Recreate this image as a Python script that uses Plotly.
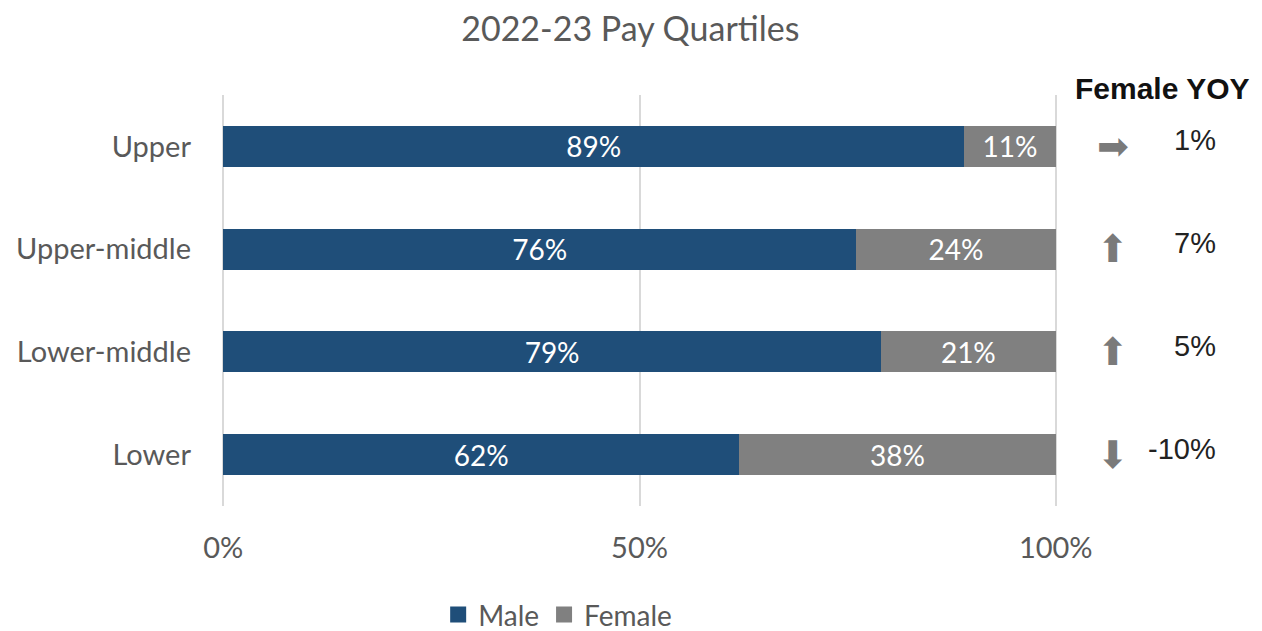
import plotly.graph_objects as go

categories = ["Lower", "Lower-middle", "Upper-middle", "Upper"]
male = [62, 79, 76, 89]
female = [38, 21, 24, 11]
female_yoy = [-10, 5, 7, 1]
yoy_arrow = ["⬇", "⬆", "⬆", "➡"]
x_ticks = [0, 50, 100]
x_tick_labels = ["0%", "50%", "100%"]

FONT = "Lato"
GREY_TXT = "#595959"
MALE_C = "#1F4E79"
FEMALE_C = "#808080"
fig = go.Figure()
fig.add_trace(go.Bar(
    y=categories, x=male, name="Male", orientation="h", showlegend=False,
    marker=dict(color=MALE_C, line=dict(width=0)),
    text=[f"{v}%" for v in male], textposition="inside", insidetextanchor="middle",
    textfont=dict(color="white", size=28, family=FONT), width=0.4,
))
fig.add_trace(go.Bar(
    y=categories, x=female, name="Female", orientation="h", showlegend=False,
    marker=dict(color=FEMALE_C, line=dict(width=0)),
    text=[f"{v}%" for v in female], textposition="inside", insidetextanchor="middle",
    textfont=dict(color="white", size=28, family=FONT), width=0.4,
))
# legend entries with larger square swatches
for nm, c in [("Male", MALE_C), ("Female", FEMALE_C)]:
    fig.add_trace(go.Scatter(x=[None], y=[None], mode="markers", name=nm,
                             marker=dict(symbol="square", size=17, color=c)))

for cat, val, arr in zip(categories, female_yoy, yoy_arrow):
    fig.add_annotation(x=1.067, y=cat, xref="paper", yref="y", text=arr,
                       showarrow=False, font=dict(family="DejaVu Sans", size=38, color="#7a7a7a"),
                       xanchor="center", yanchor="middle")
    fig.add_annotation(x=1.193, y=cat, xref="paper", yref="y", text=f"{val}%",
                       showarrow=False, font=dict(family="Liberation Sans", size=29, color="#222222"),
                       xanchor="right", yanchor="middle", yshift=6)

fig.add_annotation(x=1.126, y=1.017, xref="paper", yref="paper", text="<b>Female YOY</b>",
                   showarrow=False, font=dict(family="Liberation Sans", size=30, color="#111111"),
                   xanchor="center", yanchor="middle")

fig.update_layout(
    barmode="stack",
    width=1262, height=631,
    paper_bgcolor="white", plot_bgcolor="white",
    title=dict(text="2022-23 Pay Quartiles", x=0.489, xanchor="center", xref="paper",
               y=0.966, yanchor="middle",
               font=dict(family=FONT, size=34, color=GREY_TXT)),
    margin=dict(l=214, r=213, t=87, b=133, autoexpand=False),
    font=dict(family=FONT, color=GREY_TXT),
    legend=dict(orientation="h", x=0.402, xanchor="center", y=-0.265, yanchor="middle",
                font=dict(family=FONT, size=28, color=GREY_TXT), traceorder="normal",
                itemwidth=30),
    bargap=0.6,
)
fig.update_xaxes(range=[-0.15, 100.15], tickvals=x_ticks, ticktext=x_tick_labels,
                 showgrid=True, gridcolor="#d9d9d9", gridwidth=2, zeroline=False,
                 tickfont=dict(family=FONT, size=29, color=GREY_TXT), ticks="",
                 ticklabelstandoff=22, showline=False, automargin=False)
fig.update_yaxes(categoryorder="array", categoryarray=categories, range=[-0.5, 3.5],
                 tickfont=dict(family=FONT, size=29, color=GREY_TXT), ticks="",
                 ticklabelstandoff=30, showline=False, showgrid=False, automargin=False)

fig.write_html("out.html")
